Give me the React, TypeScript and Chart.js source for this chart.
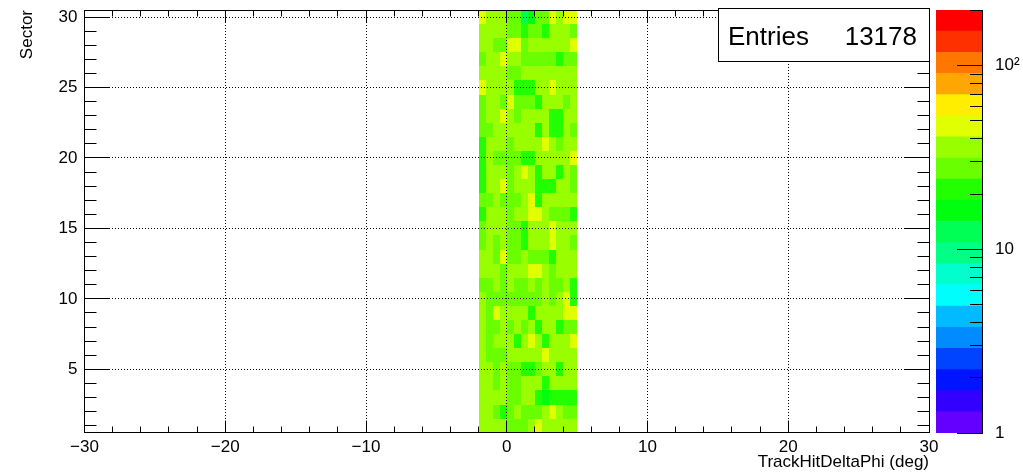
import React, { useEffect, useRef } from 'react';
import { Chart, registerables } from 'chart.js';

Chart.register(...registerables);

// ---------------- data ----------------
const deltaPhiBinLow = [-2, -1.5, -1, -0.5, 0, 0.5, 1, 1.5, 2, 2.5, 3, 3.5, 4, 4.5];
const binWidth = 0.5;
const sectors = [1, 2, 3, 4, 5, 6, 7, 8, 9, 10, 11, 12, 13, 14, 15, 16, 17, 18, 19, 20, 21, 22, 23, 24, 25, 26, 27, 28, 29, 30];
// counts per sector (row = sector 1..30), columns follow deltaPhiBinLow
const countsBySector = [
  [35, 37, 34, 36, 28, 27, 29, 33, 44, 36, 38, 34, 37, 35],
  [34, 36, 28, 22, 27, 35, 29, 26, 28, 37, 45, 33, 27, 29],
  [36, 33, 35, 38, 26, 28, 34, 37, 21, 15, 20, 22, 21, 23],
  [38, 35, 27, 34, 29, 26, 36, 33, 35, 21, 37, 34, 36, 32],
  [33, 36, 28, 35, 26, 29, 22, 20, 27, 37, 34, 21, 35, 38],
  [36, 28, 27, 29, 35, 33, 37, 34, 36, 43, 38, 35, 33, 34],
  [34, 27, 36, 33, 38, 21, 35, 45, 37, 22, 34, 36, 33, 46],
  [35, 28, 26, 37, 29, 34, 27, 36, 21, 33, 38, 20, 28, 26],
  [37, 29, 47, 33, 36, 34, 35, 22, 38, 36, 33, 35, 44, 48],
  [34, 27, 28, 26, 29, 28, 27, 26, 29, 36, 28, 35, 45, 20],
  [28, 26, 35, 29, 37, 27, 28, 34, 26, 36, 27, 29, 33, 21],
  [36, 33, 37, 28, 35, 34, 38, 44, 46, 36, 27, 34, 37, 33],
  [34, 36, 27, 45, 29, 26, 35, 28, 27, 29, 21, 37, 33, 36],
  [27, 35, 28, 34, 26, 29, 20, 36, 33, 38, 43, 35, 37, 28],
  [28, 36, 33, 37, 27, 29, 21, 35, 38, 34, 47, 33, 36, 35],
  [21, 34, 37, 35, 28, 36, 33, 44, 46, 35, 27, 26, 28, 22],
  [28, 29, 34, 27, 26, 28, 36, 43, 20, 35, 37, 33, 36, 34],
  [22, 35, 33, 45, 29, 36, 34, 37, 21, 20, 22, 38, 33, 28],
  [21, 36, 34, 38, 27, 35, 44, 33, 22, 37, 34, 21, 36, 27],
  [20, 34, 28, 26, 29, 27, 22, 21, 36, 33, 38, 35, 37, 47],
  [22, 37, 35, 33, 28, 34, 36, 38, 33, 45, 35, 27, 34, 36],
  [27, 28, 36, 34, 38, 35, 33, 37, 21, 36, 22, 20, 35, 29],
  [28, 35, 37, 46, 34, 27, 36, 33, 38, 35, 21, 22, 34, 37],
  [26, 36, 33, 28, 45, 27, 29, 28, 21, 34, 37, 35, 27, 36],
  [44, 35, 37, 34, 33, 22, 20, 21, 36, 34, 46, 37, 35, 33],
  [36, 34, 37, 33, 28, 27, 35, 38, 34, 36, 33, 37, 35, 34],
  [27, 35, 33, 44, 36, 34, 28, 26, 29, 27, 28, 21, 27, 29],
  [34, 36, 27, 28, 46, 44, 29, 35, 37, 33, 36, 34, 38, 45],
  [37, 34, 36, 35, 28, 26, 21, 27, 28, 22, 36, 33, 35, 27],
  [46, 35, 34, 37, 29, 27, 13, 17, 28, 26, 44, 36, 45, 47],
];
const entries = 13178;

const xTickValues = [-30, -20, -10, 0, 10, 20, 30];
const xMinorTicks = [-28, -26, -24, -22, -18, -16, -14, -12, -8, -6, -4, -2, 2, 4, 6, 8, 12, 14, 16, 18, 22, 24, 26, 28];
const yTickValues = [5, 10, 15, 20, 25, 30];
const yMinorTicks = [1, 2, 3, 4, 6, 7, 8, 9, 11, 12, 13, 14, 16, 17, 18, 19, 21, 22, 23, 24, 26, 27, 28, 29];
const zTickValues = [1, 10, 100];
const zTickLabels = ['1', '10', '10\u00B2'];
const zMinorTicks = [2, 3, 4, 5, 6, 7, 8, 9, 20, 30, 40, 50, 60, 70, 80, 90, 200];
const zMin = 1;
const zMax = 201;
const nContours = 20;

const xTitle = 'TrackHitDeltaPhi (deg)';
const yTitle = 'Sector';

// ---------------- palette (ROOT "pretty" palette) ----------------
function prettyColor(i: number) {
  const hue = 280 - (i + 1) * 5.6;
  return `hsl(${hue.toFixed(2)}, 100%, 50%)`;
}
function levelColor(k: number) {
  const idx = Math.floor((k + 0.99) * 50 / nContours);
  return prettyColor(Math.min(idx, 49));
}
function levelOf(v: number) {
  const f = (Math.log10(v) - Math.log10(zMin)) / (Math.log10(zMax) - Math.log10(zMin));
  return Math.max(0, Math.min(nContours - 1, Math.floor(f * nContours)));
}

const FONT = "'Liberation Sans', Arial, Helvetica, sans-serif";
const crisp = (v: number) => Math.floor(v) + 0.5;
const noPad = (s: any) => {
  s.paddingTop = 0;
  s.paddingBottom = 0;
  s.paddingLeft = 0;
  s.paddingRight = 0;
};

export default function App() {
  const mainRef = useRef<HTMLCanvasElement>(null);
  const barRef = useRef<HTMLCanvasElement>(null);

  useEffect(() => {
    Chart.defaults.font.family = FONT;
    Chart.defaults.color = '#000';

    const cells: any[] = [];
    sectors.forEach((s, si) => {
      deltaPhiBinLow.forEach((lo, ci) => {
        const v = countsBySector[si][ci];
        if (v > 0) cells.push({ x: lo + binWidth / 2, y: s, v, lo });
      });
    });

    const th2Plugin = {
      id: 'th2cells',
      afterDatasetsDraw(chart: any) {
        const { ctx, chartArea: a } = chart;
        const xs = chart.scales.x;
        const ys = chart.scales.y;
        ctx.save();
        ctx.beginPath();
        ctx.rect(a.left, a.top, a.right - a.left, a.bottom - a.top);
        ctx.clip();
        chart.data.datasets[0].data.forEach((c: any) => {
          const x0 = Math.round(xs.getPixelForValue(c.lo));
          const x1 = Math.round(xs.getPixelForValue(c.lo + binWidth));
          const y0 = Math.round(ys.getPixelForValue(c.y + 0.5));
          const y1 = Math.round(ys.getPixelForValue(c.y - 0.5));
          ctx.fillStyle = levelColor(levelOf(c.v));
          ctx.fillRect(x0, y0, x1 - x0, y1 - y0);
        });
        ctx.restore();
      },
    };

    const framePlugin = {
      id: 'rootFrame',
      afterDraw(chart: any) {
        const { ctx, chartArea: a } = chart;
        const xs = chart.scales.x;
        const ys = chart.scales.y;
        const l = crisp(a.left), r = crisp(a.right), t = crisp(a.top), b = crisp(a.bottom);
        ctx.save();
        ctx.strokeStyle = '#000';
        ctx.lineWidth = 1;
        ctx.beginPath();
        const xt = (vals: number[], len: number) => {
          vals.forEach((v) => {
            const px = crisp(xs.getPixelForValue(v));
            ctx.moveTo(px, b); ctx.lineTo(px, b - len);
            ctx.moveTo(px, t); ctx.lineTo(px, t + len);
          });
        };
        const yt = (vals: number[], len: number) => {
          vals.forEach((v) => {
            const py = crisp(ys.getPixelForValue(v));
            ctx.moveTo(l, py); ctx.lineTo(l + len, py);
            ctx.moveTo(r, py); ctx.lineTo(r - len, py);
          });
        };
        xt(xTickValues, 12);
        xt(xMinorTicks, 6);
        yt(yTickValues, 25);
        yt(yMinorTicks, 12);
        ctx.stroke();
        ctx.strokeRect(l, t, r - l, b - t);

        // axis titles
        ctx.fillStyle = '#000';
        ctx.font = `17px ${FONT}`;
        ctx.textAlign = 'right';
        ctx.textBaseline = 'alphabetic';
        ctx.fillText(xTitle, a.right, 467);
        ctx.save();
        ctx.translate(27, a.top);
        ctx.rotate(-Math.PI / 2);
        ctx.textAlign = 'right';
        ctx.textBaseline = 'middle';
        ctx.fillText(yTitle, 0, 0);
        ctx.restore();

        // stats box
        const bx0 = 718.5, bx1 = r, by0 = 8.5, by1 = 61.5;
        ctx.fillStyle = '#fff';
        ctx.fillRect(bx0, by0, bx1 - bx0, by1 - by0);
        ctx.strokeRect(bx0, by0, bx1 - bx0, by1 - by0);
        ctx.fillStyle = '#000';
        ctx.font = `26px ${FONT}`;
        ctx.textBaseline = 'alphabetic';
        ctx.textAlign = 'left';
        ctx.fillText('Entries', 728, 45);
        ctx.textAlign = 'right';
        ctx.fillText(String(entries), 917, 45);
        ctx.restore();
      },
    };

    const main = new Chart(mainRef.current!, {
      type: 'scatter',
      data: { datasets: [{ data: cells, pointRadius: 0, pointHoverRadius: 0, showLine: false }] },
      options: {
        animation: false,
        responsive: false,
        devicePixelRatio: 1,
        events: [],
        layout: { padding: { left: 0, right: 94, top: 10, bottom: 0 } },
        plugins: { legend: { display: false }, tooltip: { enabled: false } },
        scales: {
          x: {
            type: 'linear',
            min: -30,
            max: 30,
            afterBuildTicks: (s: any) => { s.ticks = xTickValues.map((v) => ({ value: v })); },
            afterFit: (s: any) => { s.height = 42.25; noPad(s); },
            ticks: {
              callback: (v: any) => String(v).replace('-', '\u2212'),
              font: { size: 17 },
              color: '#000',
              padding: 4.5,
              maxRotation: 0,
              autoSkip: false,
            },
            grid: { color: '#000', lineWidth: 1, drawTicks: false, z: 1, borderDash: [1, 2] } as any,
            border: { display: false, dash: [1, 2] },
          },
          y: {
            type: 'linear',
            min: 0.5,
            max: 30.5,
            afterBuildTicks: (s: any) => { s.ticks = yTickValues.map((v) => ({ value: v })); },
            afterFit: (s: any) => { s.width = 84.5; noPad(s); },
            ticks: { font: { size: 17 }, color: '#000', padding: 7, autoSkip: false },
            grid: { color: '#000', lineWidth: 1, drawTicks: false, z: 1, borderDash: [1, 2] } as any,
            border: { display: false, dash: [1, 2] },
          },
        },
      },
      plugins: [th2Plugin, framePlugin],
    } as any);

    const logMax = Math.log10(zMax);
    const bandDatasets = Array.from({ length: nContours }, (_, k) => ({
      data: [[Math.pow(10, (k * logMax) / nContours), Math.pow(10, ((k + 1) * logMax) / nContours)]],
      backgroundColor: levelColor(k),
      borderWidth: 0,
      grouped: false,
      barPercentage: 1,
      categoryPercentage: 1,
    }));

    const zTicksPlugin = {
      id: 'zTicks',
      afterDraw(chart: any) {
        const { ctx, chartArea: a } = chart;
        const zs = chart.scales.y;
        const r = a.right;
        ctx.save();
        ctx.strokeStyle = '#000';
        ctx.lineWidth = 1;
        ctx.beginPath();
        zTickValues.forEach((v) => {
          const py = crisp(zs.getPixelForValue(v));
          ctx.moveTo(r, py); ctx.lineTo(r - 25, py);
        });
        zMinorTicks.forEach((v) => {
          const py = crisp(zs.getPixelForValue(v));
          ctx.moveTo(r, py); ctx.lineTo(r - 12, py);
        });
        ctx.stroke();
        ctx.restore();
      },
    };

    const bar = new Chart(barRef.current!, {
      type: 'bar',
      data: { labels: [''], datasets: bandDatasets },
      options: {
        animation: false,
        responsive: false,
        devicePixelRatio: 1,
        events: [],
        layout: { padding: { left: 0, right: 0, top: 10, bottom: 42 } },
        plugins: { legend: { display: false }, tooltip: { enabled: false } },
        scales: {
          x: { display: false, stacked: false },
          y: {
            type: 'logarithmic',
            position: 'right',
            min: zMin,
            max: zMax,
            afterBuildTicks: (s: any) => { s.ticks = zTickValues.map((v) => ({ value: v })); },
            afterFit: (s: any) => { s.width = 41; noPad(s); },
            ticks: {
              callback: (v: any) => {
                const i = zTickValues.indexOf(Number(v));
                return i >= 0 ? zTickLabels[i] : '';
              },
              font: { size: 17 },
              color: '#000',
              padding: 13,
              autoSkip: false,
            },
            grid: { display: false, drawTicks: false },
            border: { display: true, color: '#000', width: 1 },
          },
        },
      },
      plugins: [zTicksPlugin],
    } as any);

    return () => {
      main.destroy();
      bar.destroy();
    };
  }, []);

  return (
    <div style={{ position: 'fixed', left: 0, top: 0, width: 1023, height: 475, background: '#fff' }}>
      <canvas
        ref={mainRef}
        width={1023}
        height={475}
        style={{ position: 'absolute', left: 0, top: 0, width: 1023, height: 475 }}
      />
      <canvas
        ref={barRef}
        width={87}
        height={475}
        style={{ position: 'absolute', left: 936, top: 0, width: 87, height: 475 }}
      />
    </div>
  );
}
